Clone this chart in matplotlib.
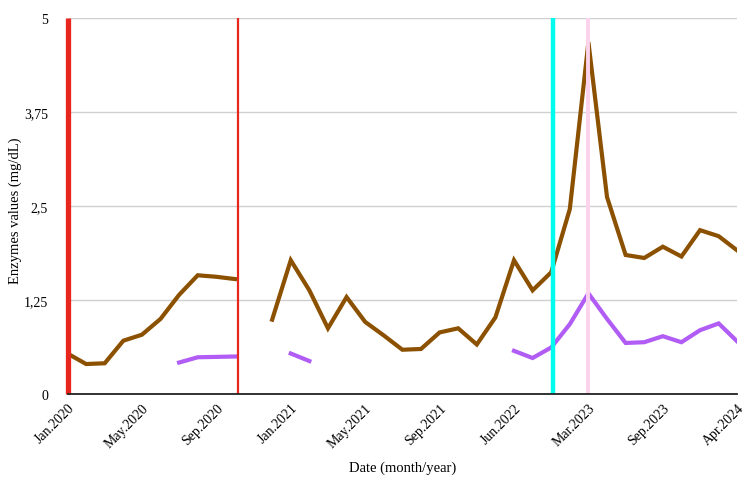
import matplotlib
matplotlib.use("Agg")
import matplotlib.pyplot as plt
import numpy as np

# Data (category index positions, irregular dates)
tick_labels = ["Jan.2020", "May.2020", "Sep.2020", "Jan.2021", "May.2021",
               "Sep.2021", "Jun.2022", "Mar.2023", "Sep.2023", "Apr.2024"]
n_points = 37
brown_values = [0.54, 0.40, 0.41, 0.71, 0.79, 1.00, 1.32, 1.58, 1.56, 1.53,
                None, 0.99, 1.78, 1.38, 0.875, 1.29, 0.96, 0.78, 0.59, 0.60,
                0.82, 0.875, 0.66, 1.02, 1.78, 1.38, 1.62, 2.46, 4.68, 2.62,
                1.85, 1.81, 1.96, 1.83, 2.18, 2.10, 1.91]
purple_values = [None] * 6 + [0.42, 0.49, 0.495, 0.50, None, None, 0.54, 0.44] \
    + [None] * 10 + [0.575, 0.48, 0.62, 0.93, 1.34, 1.00, 0.68, 0.69, 0.77,
                     0.69, 0.85, 0.94, 0.70]
event_positions = [0, 9.15, 26.08, 28]
event_colors = ["#e8261e", "#e8261e", "#00fbef", "#fcd3ec"]
event_widths = [3.8, 1.6, 3.2, 2.8]

plt.rcParams['font.family'] = ['Liberation Serif', 'DejaVu Serif']

fig = plt.figure(figsize=(7.5, 4.89), dpi=100)
ax = fig.add_axes([0.09, 0.192, 0.893, 0.769])

x = np.arange(n_points)
brown = np.array([np.nan if v is None else v for v in brown_values], dtype=float)
purple = np.array([np.nan if v is None else v for v in purple_values], dtype=float)

ax.set_ylim(0, 5)
ax.set_xlim(0, n_points - 1)
ax.set_yticks([0, 1.25, 2.5, 3.75, 5])
ax.set_yticklabels(["0", "1,25", "2,5", "3,75", "5"], fontsize=10)
ax.yaxis.grid(True, color="#d0d0d0", linewidth=1.0)
ax.set_axisbelow(True)

ax.plot(x, brown, color="#8b5000", linewidth=3.0, solid_joinstyle="miter", zorder=3)
ax.plot(x, purple, color="#b05cf5", linewidth=3.0, solid_joinstyle="miter", zorder=3)

for pos, c, w in zip(event_positions, event_colors, event_widths):
    ax.axvline(pos, color=c, linewidth=w, zorder=4, clip_on=False,
               solid_capstyle="butt")

ax.set_xticks(np.arange(0, n_points, 4))
ax.set_xticklabels(tick_labels, rotation=45, ha="right", rotation_mode="anchor", fontsize=10)
ax.tick_params(axis="both", length=0)
ax.tick_params(axis="x", pad=5)
ax.tick_params(axis="y", pad=14)

for s in ["top", "right", "left"]:
    ax.spines[s].set_visible(False)
ax.spines["bottom"].set_color("#222222")
ax.spines["bottom"].set_linewidth(1.3)
ax.spines["bottom"].set_zorder(5)

ax.set_xlabel("Date (month/year)", fontsize=10.5, labelpad=8)
ax.set_ylabel("Enzymes values (mg/dL)", fontsize=10.5)
ax.yaxis.set_label_coords(-0.068, 0.49)

fig.savefig("out.png", dpi=100)
